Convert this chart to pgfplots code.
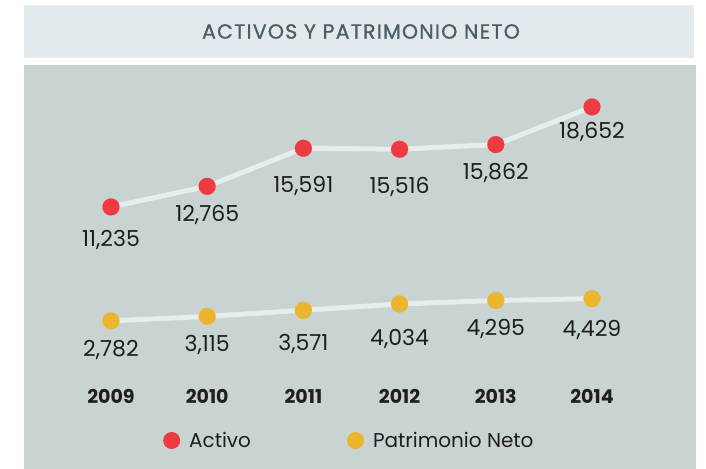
\documentclass[border=0pt]{standalone}
\usepackage{fontspec}
\setmainfont{Poppins}
\newfontfamily\titlefont{Poppins}[LetterSpace=6, FakeBold=1]
\usepackage{pgfplots}
\pgfplotsset{compat=1.18}
\usepackage{pgfplotstable}

\definecolor{bgGray}{HTML}{C9D3D2}
\definecolor{titleBg}{HTML}{E3EAEC}
\definecolor{titleTxt}{HTML}{4A5E69}
\definecolor{lineC}{HTML}{E6EDED}
\definecolor{cRed}{HTML}{EE3B42}
\definecolor{cYellow}{HTML}{EBB52E}
\definecolor{txt}{HTML}{1E1E1E}

% x, value, label, label offset below the marker (pt)
\pgfplotstableread{
x y     lab    dy
0 11235 11,235 33
1 12765 12,765 29
2 15591 15,591 38
3 15516 15,516 38
4 15862 15,862 28
5 18652 18,652 25
}\activo

\pgfplotstableread{
x y    lab   dy
0 2782 2,782 29
1 3115 3,115 29
2 3571 3,571 34
3 4034 4,034 35
4 4295 4,295 28
5 4429 4,429 31
}\patrimonio

\begin{document}
\begin{tikzpicture}
\begin{axis}[
  scale only axis, width=672pt, height=404pt,
  xmin=-0.904, xmax=6.081, ymin=-8205, ymax=21766,
  axis background/.style={fill=bgGray},
  axis line style={draw=none}, tick style={draw=none},
  ytick=\empty,
  xtick={0,...,5}, xticklabels={2009,2010,2011,2012,2013,2014},
  major tick length=0pt,
  xticklabel style={anchor=base, yshift=65pt, text=txt,
    font=\fontsize{19}{19}\selectfont\bfseries},
  clip=false,
  legend image code/.code={\fill[#1, draw=none] (0pt,0pt) circle (8.5pt);},
  legend style={draw=none, fill=none, inner sep=0pt,
    at={(rel axis cs:0.2068,0.0705)}, anchor=west,
    font=\fontsize{20}{20}\selectfont, text=txt,
    /tikz/every odd column/.append style={column sep=7pt},
    /tikz/every even column/.append style={column sep=94pt}},
  legend columns=2,
  every node near coord/.append style={anchor=center, text=txt,
    font=\fontsize{22}{22}\selectfont},
]
\addplot[lineC, line width=5pt, mark=*, mark size=8.5pt,
  mark options={draw=cRed, fill=cRed, line width=0.1pt},
  nodes near coords, point meta=explicit symbolic,
  visualization depends on={\thisrow{dy}\as\dy},
  every node near coord/.append style={yshift=-\dy pt},
  forget plot] table[x=x, y=y, meta=lab] {\activo};
\addplot[lineC, line width=5pt, mark=*, mark size=8.5pt,
  mark options={draw=cYellow, fill=cYellow, line width=0.1pt},
  nodes near coords, point meta=explicit symbolic,
  visualization depends on={\thisrow{dy}\as\dy},
  every node near coord/.append style={yshift=-\dy pt},
  forget plot] table[x=x, y=y, meta=lab] {\patrimonio};

\addlegendimage{fill=cRed}
\addlegendentry{Activo}
\addlegendimage{fill=cYellow}
\addlegendentry{Patrimonio Neto}

% title band and page size
\fill[titleBg] ([yshift=7pt]rel axis cs:0,1) rectangle ([xshift=-2pt,yshift=60pt]rel axis cs:1,1);
\node[text=titleTxt, font=\titlefont\fontsize{20.5}{20.5}\selectfont] at ([xshift=1pt,yshift=33.5pt]rel axis cs:0.5,1) {ACTIVOS Y PATRIMONIO NETO};
\path ([xshift=-24pt]rel axis cs:0,0) rectangle ([xshift=10pt,yshift=65pt]rel axis cs:1,1);
\end{axis}
\end{tikzpicture}
\end{document}
